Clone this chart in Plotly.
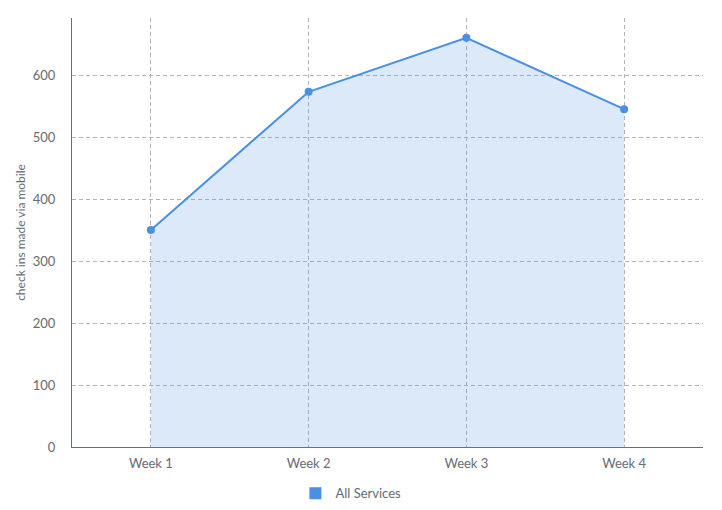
import plotly.graph_objects as go

weeks = ["Week 1", "Week 2", "Week 3", "Week 4"]
checkins = [350, 573, 660, 545]
series_name = "All Services"
y_title = "check ins made via mobile"

blue = "#4a90e2"
grid = "#b4b4bc"
fig = go.Figure()
fig.add_trace(go.Scatter(
    x=weeks, y=checkins, mode="lines+markers", fill="tozeroy",
    fillcolor="rgba(74,144,226,0.2)",
    line=dict(color=blue, width=2), marker=dict(color=blue, size=8),
    showlegend=False, hoverinfo="x+y",
))
fig.add_trace(go.Scatter(
    x=[None], y=[None], mode="markers", name=series_name,
    marker=dict(symbol="square", color=blue, size=13),
))

fig.update_layout(
    width=722, height=510,
    margin=dict(l=71.5, r=19, t=18, b=63, autoexpand=False),
    paper_bgcolor="white", plot_bgcolor="white",
    font=dict(family="Lato, 'Open Sans', sans-serif", size=13, color="#666b73"),
    showlegend=True,
    legend=dict(orientation="h", x=0.442, xanchor="center", y=-0.108, yanchor="middle",
                font=dict(size=13, color="#666b73"), itemsizing="constant"),
    xaxis=dict(
        type="category", range=[-0.5, 3.5], automargin=False,
        showgrid=True, gridcolor=grid, griddash="4px,3px", gridwidth=1,
        showline=True, linecolor="#6b6f78", linewidth=1,
        ticks="", zeroline=False, fixedrange=True, ticklabelstandoff=4,
    ),
    yaxis=dict(
        range=[0, 692], dtick=100, tick0=0, automargin=False,
        showgrid=True, gridcolor=grid, griddash="4px,3px", gridwidth=1,
        showline=True, linecolor="#6b6f78", linewidth=1,
        zeroline=False, ticks="", ticklabelstandoff=13,
        title=dict(text=y_title, font=dict(size=12, color="#666b73"), standoff=4),
    ),
)
fig.write_html("out.html", config={"displayModeBar": False},
               post_script="document.body.style.margin='0';")
